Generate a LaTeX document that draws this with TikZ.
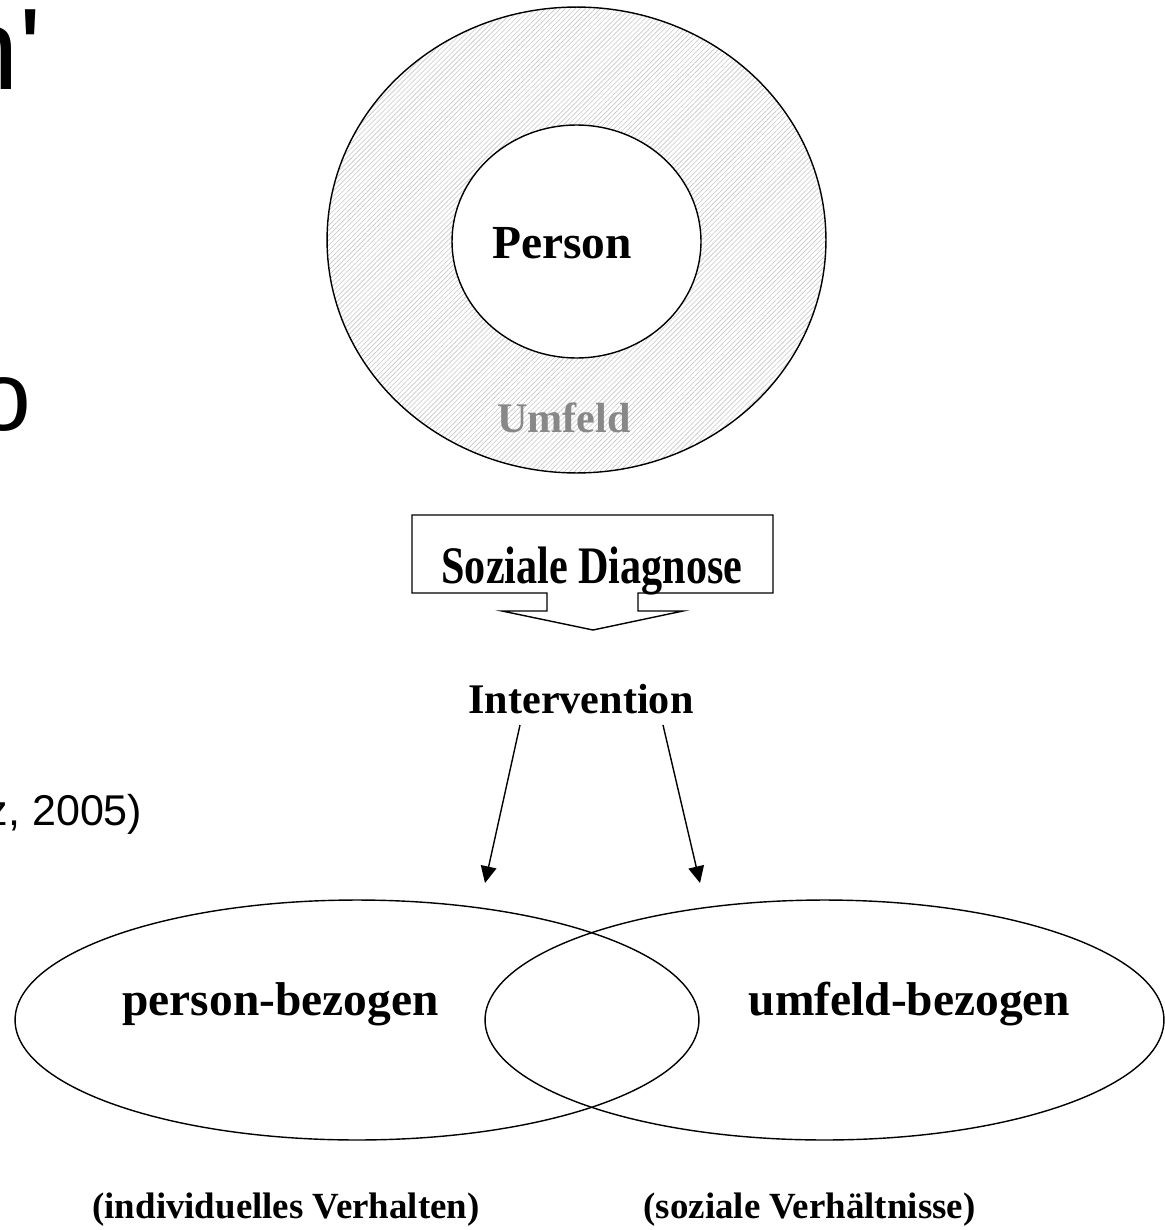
\documentclass[tikz,border=0pt]{standalone}
\usepackage{fontspec}
\setmainfont{Liberation Serif}
\newfontfamily\slidefont{Liberation Sans}
\usetikzlibrary{shapes.geometric,arrows.meta,patterns.meta}
\definecolor{umfeldgray}{RGB}{136,136,136}

\begin{document}
\begin{tikzpicture}[x=0.02cm, y=-0.02cm, line width=0.8pt,
        lbl/.style={font=\bfseries\fontsize{24}{28}\selectfont, inner sep=0pt},
        big/.style={font=\bfseries\fontsize{27}{32}\selectfont, inner sep=0pt},
        small/.style={font=\bfseries\fontsize{21}{25}\selectfont, inner sep=0pt},
        slide/.style={inner sep=0pt, anchor=base east},
        ring/.style={ellipse, draw, inner sep=0pt, outer sep=0pt}]
    \useasboundingbox (0,0) rectangle (1164,1230);

    % rest of the slide, cut off at the left edge
    \node (title) [slide, font=\slidefont\fontsize{66}{70}\selectfont] at (42,90) {n'};
    \node (line) [slide, font=\slidefont\fontsize{56}{60}\selectfont] at (32,430) {o};
    \node (source) [slide, font=\slidefont\fontsize{24.5}{30}\selectfont] at (143,825) {z, 2005)};

    % Person im Umfeld
    \node (umfeld) [ring, minimum width=9.98cm, minimum height=9.32cm,
        pattern={Lines[angle=45, distance=2pt, line width=0.35pt]}, pattern color=gray!45] at (576.5,240) {};
    \node (inner) [ring, fill=white, minimum width=4.98cm, minimum height=4.66cm] at (576.5,241.5) {};
    \node (person) [big, anchor=base] at (562,258) {Person};
    \node (umfeldtext) [lbl, anchor=base, text=umfeldgray] at (564,432) {Umfeld};

    % Diagnose-Pfeil
    \node (diag) [lbl, anchor=base] at (592,583) {\scalebox{1}[1.25]{Soziale Diagnose}};
    \draw (412,515) -| (773,593) -- (638,593) -- ++(0,18) -- (683,611) -- (593,630)
        -- (502,611) -- (547,611) -- ++(0,-18) -- (412,593) -- cycle;

    \node (interv) [lbl, anchor=base] at (581,713) {Intervention};
    \coordinate (left from) at (520,725);
    \coordinate (left to) at (485,883);
    \coordinate (right from) at (663,725);
    \coordinate (right to) at (700,883);
    \draw[-{Triangle[width=9pt, length=9.5pt]}] (left from) -- (left to);
    \draw[-{Triangle[width=9pt, length=9.5pt]}] (right from) -- (right to);

    % Interventionsbereiche
    \node (pers) [ring, minimum width=13.68cm, minimum height=4.8cm] at (357,1020) {};
    \node (umf) [ring, minimum width=13.58cm, minimum height=4.8cm] at (824.5,1020) {};
    \node (perstext) [big, anchor=base] at (280.5,1015) {person-bezogen};
    \node (umftext) [big, anchor=base] at (909.5,1015) {umfeld-bezogen};
    \node (persnote) [small, anchor=base] at (286,1218) {(individuelles Verhalten)};
    \node (umfnote) [small, anchor=base] at (809.5,1218) {(soziale Verhältnisse)};
\end{tikzpicture}
\end{document}
